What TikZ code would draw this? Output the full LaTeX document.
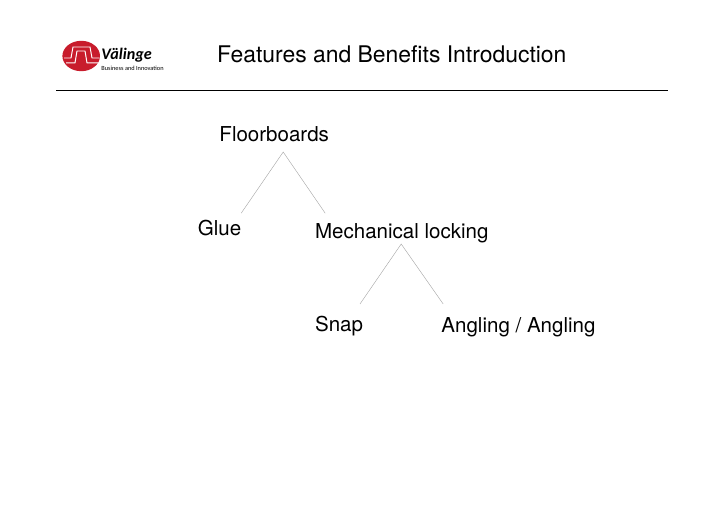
\documentclass[tikz,border=0pt]{standalone}
\usepackage{fontspec}
\setmainfont{TeX Gyre Heros}
\newfontfamily\logofont{Carlito}
\definecolor{logored}{RGB}{200,28,44}
\tikzset{
  label text/.style={font=\fontsize{14.6}{17}\selectfont,inner sep=0pt,anchor=base west},
  branch/.style={draw=black!35,line width=0.3pt},
}
\begin{document}
\begin{tikzpicture}
	\useasboundingbox (0,0) rectangle (18,12.75);
	% logo
	\fill[logored] (2.03,11.35) ellipse (0.47cm and 0.38cm);
	\draw[white,line width=0.7pt] (1.6,11.3) -- (1.775,11.3) -- (1.825,11.575) -- (2.25,11.575) -- (2.3,11.3) -- (2.49,11.3);
	\draw[white,line width=0.7pt] (1.65,11.18) -- (1.875,11.18) -- (1.925,11.475) -- (2.125,11.475) -- (2.175,11.18) -- (2.45,11.18);
	\node[inner sep=0pt,anchor=base west] (logoname) at (2.53,11.26) {\logofont\fontsize{11.5}{14}\selectfont\bfseries\itshape Välinge};
	\node[inner sep=0pt,anchor=base west] (logosub) at (2.53,10.98) {\logofont\fontsize{4.5}{6}\selectfont Business and Innovation};
	% title and rule
	\node[label text,font=\fontsize{16.3}{19}\selectfont] (title) at (5.42,11.19) {Features and Benefits Introduction};
	\draw[line width=0.5pt] (1.4,10.5) -- (16.7,10.5);
	% labels
	\node[label text] (floorboards) at (5.48,9.2) {Floorboards};
	\node[label text] (glue) at (4.94,6.87) {Glue};
	\node[label text] (mechanical) at (7.87,6.79) {Mechanical locking};
	\node[label text] (snap) at (7.87,4.45) {Snap};
	\node[label text] (angling) at (11.03,4.44) {Angling / Angling};
	% branch ends
	\coordinate (floortop) at (7.08,8.95);
	\coordinate (glueend) at (6.03,7.42);
	\coordinate (mechend) at (8.13,7.42);
	\coordinate (mechtop) at (10.03,6.65);
	\coordinate (snapend) at (9,5.15);
	\coordinate (anglingend) at (11.08,5.15);
	\draw[branch] (glueend) -- (floortop) -- (mechend);
	\draw[branch] (snapend) -- (mechtop) -- (anglingend);
\end{tikzpicture}
\end{document}
